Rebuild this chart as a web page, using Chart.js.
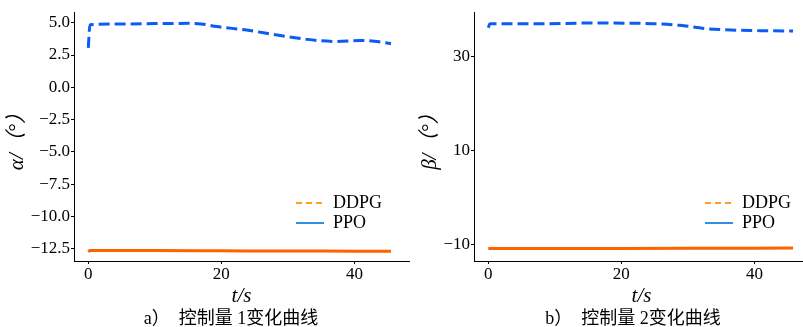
<!DOCTYPE html>
<html>
<head>
<meta charset="utf-8">
<script src="https://cdn.jsdelivr.net/npm/chart.js@4.4.1/dist/chart.umd.min.js"></script>
<style>
  html, body { margin: 0; padding: 0; background: #fff; }
  body { width: 803px; height: 327px; overflow: hidden; position: relative; }
  .panel { position: absolute; top: 0; width: 416px; height: 327px; }
  .cap { position: absolute; top: 308px; width: 300px; text-align: center; color: #000;
         font: 18px "Liberation Serif", "Noto Sans CJK SC"; line-height: 20px; }
</style>
</head>
<body>
<div class="panel" style="left:0"><canvas id="chartA" width="416" height="327"></canvas></div>
<div class="panel" style="left:400px"><canvas id="chartB" width="416" height="327"></canvas></div>
<div class="cap" style="left:81px">a）　控制量 1变化曲线</div>
<div class="cap" style="left:483px">b）　控制量 2变化曲线</div>
<script>
const seriesNames = ["DDPG", "PPO"];
const xTicks = [0, 20, 40];

// a) 控制量1 (alpha)
const tAlphaDdpg = [0, 0.25, 5, 10, 15, 17, 19.3, 23.8, 28.3, 32.9, 35, 37.4, 40.9, 43, 45.5];
const alphaDdpg = [3.05, 4.85, 4.9, 4.93, 4.95, 4.9, 4.7, 4.43, 4.05, 3.71, 3.6, 3.55, 3.62, 3.57, 3.37];
const tAlphaPpo = [0, 0.25, 10, 20, 30, 40, 45.5];
const alphaPpo = [-12.75, -12.63, -12.64, -12.66, -12.68, -12.69, -12.7];
const alphaTicks = [5, 2.5, 0, -2.5, -5, -7.5, -10, -12.5];

// b) 控制量2 (beta)
const tBetaDdpg = [0, 0.25, 7.8, 15.3, 24.8, 28.8, 32.8, 35.3, 40.9, 45.8];
const betaDdpg = [36.05, 36.92, 36.9, 37.05, 36.92, 36.56, 35.86, 35.65, 35.43, 35.36];
const tBetaPpo = [0, 10, 20, 30, 40, 45.8];
const betaPpo = [-10.85, -10.84, -10.82, -10.8, -10.78, -10.76];
const betaTicks = [30, 10, -10];

const serif = '"Liberation Serif", "Noto Sans CJK SC"';
const minus = v => (v < 0 ? "\u2212" : "") + Math.abs(v);

// legend swatches as they appear in the figure
const legendLook = [
    { color: "#ff9d1f", dash: [6, 4] },
    { color: "#2f8fe3", dash: [] },
];

// move the legend box into the plot, right side
const legendSpot = {
    id: "legendSpot",
    afterLayout(chart, args, opts) {
        const lg = chart.legend;
        if (!lg) return;
        lg.left = opts.x;
        lg.top = opts.y;
        lg.right = opts.x + lg.width;
        lg.bottom = chart.height;
        lg.height = chart.height - opts.y;
    },
};

function pts(t, v) {
    return t.map((x, i) => ({ x: x, y: v[i] }));
}

function makeChart(id, cfg) {
    const ctx = document.getElementById(id).getContext("2d");
    return new Chart(ctx, {
        type: "line",
        data: {
            datasets: [
                {
                    label: seriesNames[0],
                    data: pts(cfg.t0, cfg.v0),
                    borderColor: "#0a5cf2",
                    borderWidth: 3,
                    borderDash: [11, 5],
                    pointRadius: 0,
                    cubicInterpolationMode: "monotone",
                    fill: false,
                },
                {
                    label: seriesNames[1],
                    data: pts(cfg.t1, cfg.v1),
                    borderColor: "#ff6200",
                    borderWidth: 3,
                    pointRadius: 0,
                    cubicInterpolationMode: "monotone",
                    fill: false,
                },
            ],
        },
        options: {
            responsive: false,
            animation: false,
            layout: {
                padding: { top: 12, right: 7, bottom: 0, left: 0 },
            },
            plugins: {
                tooltip: { enabled: false },
                legendSpot: { x: cfg.legendX, y: 192 },
                legend: {
                    position: "chartArea",
                    align: "start",
                    labels: {
                        usePointStyle: true,
                        pointStyleWidth: 28,
                        padding: 2,
                        color: "#000",
                        font: { family: serif, size: 18 },
                        generateLabels: chart => chart.data.datasets.map((ds, i) => ({
                            text: ds.label,
                            datasetIndex: i,
                            hidden: false,
                            pointStyle: "line",
                            strokeStyle: legendLook[i].color,
                            fillStyle: legendLook[i].color,
                            lineWidth: 2,
                            lineDash: legendLook[i].dash,
                            fontColor: "#000",
                        })),
                    },
                },
            },
            scales: {
                x: {
                    type: "linear",
                    min: -2.15,
                    max: 48.2,
                    afterBuildTicks: s => { s.ticks = xTicks.map(v => ({ value: v })); },
                    afterFit: s => { s.height = 66; },
                    grid: { drawOnChartArea: false, drawTicks: true, tickLength: 3, color: "#000" },
                    border: { display: true, color: "#000", width: 1 },
                    ticks: {
                        color: "#000",
                        padding: 0,
                        font: { family: serif, size: 17 },
                        callback: v => String(v),
                    },
                    title: {
                        display: true,
                        text: "t/s",
                        color: "#000",
                        font: { family: serif, size: 21, style: "italic" },
                        padding: { top: 0, bottom: 18 },
                    },
                },
                y: {
                    min: cfg.ymin,
                    max: cfg.ymax,
                    afterBuildTicks: s => { s.ticks = cfg.yTicks.map(v => ({ value: v })); },
                    afterFit: s => { s.width = 74; },
                    grid: { drawOnChartArea: false, drawTicks: true, tickLength: 3, color: "#000" },
                    border: { display: true, color: "#000", width: 1 },
                    ticks: {
                        color: "#000",
                        padding: 1,
                        font: { family: serif, size: 17 },
                        callback: cfg.fmt,
                    },
                    title: {
                        display: true,
                        text: cfg.yTitle,
                        color: "#000",
                        font: { family: serif, size: 21, style: "italic" },
                        padding: { top: cfg.yTitlePad, bottom: 0 },
                    },
                },
            },
        },
        plugins: [legendSpot],
    });
}

const chartA = makeChart("chartA", {
    t0: tAlphaDdpg, v0: alphaDdpg,
    t1: tAlphaPpo, v1: alphaPpo,
    ymin: -13.45, ymax: 5.83,
    yTicks: alphaTicks,
    fmt: v => (v < 0 ? "\u2212" : "") + Math.abs(v).toFixed(1),
    yTitle: "α/（°）",
    yTitlePad: 4.4,
    legendX: 294,
});

const chartB = makeChart("chartB", {
    t0: tBetaDdpg, v0: betaDdpg,
    t1: tBetaPpo, v1: betaPpo,
    ymin: -13.5, ymax: 39.4,
    yTicks: betaTicks,
    fmt: v => minus(v),
    yTitle: "β/（°）",
    yTitlePad: 17.4,
    legendX: 303,
});
</script>
</body>
</html>
